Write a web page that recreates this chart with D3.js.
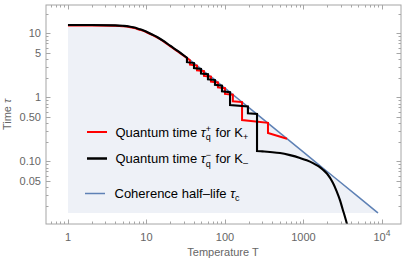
<!DOCTYPE html>
<html><head><meta charset="utf-8">
<script src="https://cdn.jsdelivr.net/npm/d3@7"></script>
<style>body{margin:0;background:#fff}svg{display:block}text{white-space:pre}</style>
</head><body><svg id="c" width="407" height="266"></svg>
<script>
// ---- data ----
const blueT   = [1, 2, 4, 5, 6, 7, 8, 9, 10, 12, 14, 17, 20, 25, 30, 40, 50, 70, 100, 200, 500, 1000, 2000, 5000, 8890];
const blueTau = [13.5, 13.5, 13.3, 13.1, 12.8, 12.3, 11.7, 11.2, 10.6, 9.5, 8.6, 7.4, 6.4, 5.3, 4.5, 3.45, 2.75, 1.99, 1.39, 0.695, 0.278, 0.139, 0.0695, 0.0278, 0.0156];

const blackSmoothT   = [1, 2, 4, 5, 6, 7, 8, 9, 10, 12, 14, 17, 20, 25, 30, 32.8];
const blackSmoothTau = [13.5, 13.5, 13.3, 13.1, 12.8, 12.3, 11.7, 11.2, 10.6, 9.5, 8.6, 7.4, 6.4, 5.3, 4.5, 4.15];
const blackStepT   = [32.8, 40.3, 40.3, 49.5, 49.5, 60.7, 60.7, 74.6, 74.6, 91.6, 91.6, 116, 116, 196, 196, 256, 256];
const blackStepTau = [3.54, 3.43, 2.87, 2.78, 2.36, 2.29, 1.92, 1.86, 1.57, 1.52, 1.24, 1.2, 0.76, 0.72, 0.565, 0.55, 0.145];
const blackTailT   = [256, 300, 374, 503, 673, 902, 1100, 1321, 1550, 1771, 2000, 2377, 2650, 2917, 3150, 3381, 3583, 3750];
const blackTailTau = [0.145, 0.143, 0.140, 0.135, 0.125, 0.113, 0.104, 0.094, 0.084, 0.074, 0.064, 0.046, 0.034, 0.0248, 0.018, 0.0135, 0.0105, 0.0085];

const redSmoothT   = [1, 2, 4, 5, 6, 7, 8, 9, 10, 12, 14, 17, 20, 25, 30, 35.8];
const redSmoothTau = [13.3, 13.3, 13.1, 12.9, 12.6, 12.1, 11.5, 11.0, 10.4, 9.35, 8.45, 7.3, 6.3, 5.2, 4.45, 3.8];
const redStepT   = [35.8, 44, 44, 54, 54, 66.3, 66.3, 81.4, 81.4, 100, 100, 126, 126, 165, 165, 353, 353, 617];
const redStepTau = [3.24, 3.14, 2.65, 2.57, 2.16, 2.10, 1.76, 1.71, 1.43, 1.39, 1.13, 1.10, 0.868, 0.842, 0.442, 0.40, 0.277, 0.225];

const xMajor = [1, 10, 100, 1000, 10000];
const xMajorLabels = ["1", "10", "100", "1000", "10^4"];
const yMajor = [0.05, 0.1, 0.5, 1, 5, 10];
const yMajorLabels = ["0.05", "0.10", "0.50", "1", "5", "10"];

// ---- layout ----
const L = 46, R = 401, T = 5, B = 224;
const x = d3.scaleLog().domain([0.525, 17470]).range([L, R]);
const y = d3.scaleLog().domain([0.0105, 27.7]).range([B, T]);
const svg = d3.select('#c');
const FONT = "'Liberation Sans', Arial, sans-serif";
const TICKFS = 11;

svg.append('defs').append('clipPath').attr('id', 'clip')
  .append('rect').attr('x', L).attr('y', T).attr('width', R - L).attr('height', B - T);
const g = svg.append('g').attr('clip-path', 'url(#clip)');

const zip = (a, b) => a.map((v, i) => [v, b[i]]);
const blue = zip(blueT, blueTau);

g.append('path').datum(blue)
  .attr('d', d3.area().x(d => x(d[0])).y0(y(blueTau[blueTau.length - 1])).y1(d => y(d[1])).curve(d3.curveMonotoneX))
  .attr('fill', '#eef1f7');

const smooth = d3.line().x(d => x(d[0])).y(d => y(d[1])).curve(d3.curveMonotoneX);
const lin = d3.line().x(d => x(d[0])).y(d => y(d[1]));
const join = (...ds) => ds.map((d, i) => i ? d.replace(/^M/, 'L') : d).join('');

g.append('path').attr('d', smooth(blue)).attr('fill', 'none')
  .attr('stroke', '#5e81b5').attr('stroke-width', 1.5);

g.append('path')
  .attr('d', join(smooth(zip(redSmoothT, redSmoothTau)), lin(zip(redStepT, redStepTau))))
  .attr('fill', 'none').attr('stroke', '#ff0000').attr('stroke-width', 2).attr('stroke-linejoin', 'miter');

g.append('path')
  .attr('d', join(smooth(zip(blackSmoothT, blackSmoothTau)), lin(zip(blackStepT, blackStepTau)), smooth(zip(blackTailT, blackTailTau))))
  .attr('fill', 'none').attr('stroke', '#000').attr('stroke-width', 2.1).attr('stroke-linejoin', 'miter');

// ---- frame & ticks ----
const frameCol = '#a6a6a6', labCol = '#666';
svg.append('rect').attr('x', L).attr('y', T).attr('width', R - L).attr('height', B - T)
  .attr('fill', 'none').attr('stroke', frameCol).attr('stroke-width', 1);

const xMinor = [], yMinor = [];
for (let e = -1; e <= 4; e++) for (let k = 2; k <= 9; k++) {
  const v = k * Math.pow(10, e);
  if (v > 0.525 && v < 17470) xMinor.push(v);
}
for (let e = -2; e <= 1; e++) for (let k = 1; k <= 9; k++) {
  const v = k * Math.pow(10, e);
  if (v > 0.0105 && v < 27.7 && !yMajor.some(m => Math.abs(m - v) / v < 1e-6)) yMinor.push(v);
}
const tk = svg.append('g').attr('stroke', frameCol).attr('stroke-width', 1);
xMajor.forEach(v => {
  const px = Math.round(x(v)) + 0.5;
  tk.append('line').attr('x1', px).attr('x2', px).attr('y1', B).attr('y2', B - 4.5);
  tk.append('line').attr('x1', px).attr('x2', px).attr('y1', T).attr('y2', T + 4.5);
});
xMinor.forEach(v => {
  const px = Math.round(x(v)) + 0.5;
  tk.append('line').attr('x1', px).attr('x2', px).attr('y1', B).attr('y2', B - 2.5);
  tk.append('line').attr('x1', px).attr('x2', px).attr('y1', T).attr('y2', T + 2.5);
});
yMajor.forEach(v => {
  const py = Math.round(y(v)) + 0.5;
  tk.append('line').attr('y1', py).attr('y2', py).attr('x1', L).attr('x2', L + 4.5);
  tk.append('line').attr('y1', py).attr('y2', py).attr('x1', R).attr('x2', R - 4.5);
});
yMinor.forEach(v => {
  const py = Math.round(y(v)) + 0.5;
  tk.append('line').attr('y1', py).attr('y2', py).attr('x1', L).attr('x2', L + 2.5);
  tk.append('line').attr('y1', py).attr('y2', py).attr('x1', R).attr('x2', R - 2.5);
});

// tick labels
xMajor.forEach((v, i) => {
  const lab = xMajorLabels[i];
  const t = svg.append('text').attr('x', x(v)).attr('y', 241).attr('text-anchor', 'middle')
    .attr('font-family', FONT).attr('font-size', TICKFS).attr('fill', labCol);
  if (lab.includes('^')) {
    const [b, e] = lab.split('^');
    t.append('tspan').text(b);
    t.append('tspan').attr('dy', -5).attr('font-size', 8.5).text(e);
  } else t.text(lab);
});
yMajor.forEach((v, i) => {
  svg.append('text').attr('x', 41).attr('y', y(v) + 4).attr('text-anchor', 'end')
    .attr('font-family', FONT).attr('font-size', TICKFS).attr('fill', labCol).text(yMajorLabels[i]);
});

// axis titles
const yt = svg.append('text').attr('transform', 'translate(10.5,114.5) rotate(-90)').attr('text-anchor', 'middle')
  .attr('font-family', FONT).attr('font-size', TICKFS).attr('fill', labCol);
yt.append('tspan').text('Time ');
yt.append('tspan').attr('font-style', 'italic').text('τ');
svg.append('text').attr('x', 223).attr('y', 256).attr('text-anchor', 'middle')
  .attr('font-family', FONT).attr('font-size', TICKFS).attr('fill', labCol).text('Temperature T');

// ---- legend ----
function rich(x0, yb, pieces) {
  let cx = x0, pending = 0;
  pieces.forEach(p => {
    const t = svg.append('text').attr('x', cx).attr('y', yb + (p.dy || 0))
      .attr('xml:space', 'preserve')
      .attr('font-family', FONT).attr('font-size', p.sz || 13).attr('fill', '#000')
      .attr('font-style', p.it ? 'italic' : 'normal').text(p.s);
    const w = t.node().getComputedTextLength();
    if (p.stack) { pending = w; }
    else { cx += Math.max(w, pending) + (p.gap || 0); pending = 0; }
  });
}
const legend = [
  { y: 132, col: '#ff0000', sw: 2, x1: 87, x2: 107, tx: 115.5,
    pieces: [{ s: 'Quantum time ' }, { s: 'τ', it: 1 }, { s: 'q', sz: 9, dy: 3.5, stack: 1 }, { s: '+', sz: 9, dy: -5, gap: 1 }, { s: ' for K' }, { s: '+', sz: 9, dy: 3 }] },
  { y: 158.5, col: '#000', sw: 2.5, x1: 87, x2: 107, tx: 115.5,
    pieces: [{ s: 'Quantum time ' }, { s: 'τ', it: 1 }, { s: 'q', sz: 9, dy: 3.5, stack: 1 }, { s: '−', sz: 9, dy: -5, gap: 1 }, { s: ' for K' }, { s: '–', sz: 9, dy: 3 }] },
  { y: 193.5, col: '#5e81b5', sw: 1.5, x1: 85, x2: 105, tx: 114.5,
    pieces: [{ s: 'Coherence half–life ' }, { s: 'τ', it: 1 }, { s: 'c', sz: 9, dy: 3 }] }
];
legend.forEach(d => {
  svg.append('line').attr('x1', d.x1).attr('x2', d.x2).attr('y1', d.y).attr('y2', d.y)
    .attr('stroke', d.col).attr('stroke-width', d.sw);
  rich(d.tx, d.y + 4.5, d.pieces);
});
</script></body></html>
